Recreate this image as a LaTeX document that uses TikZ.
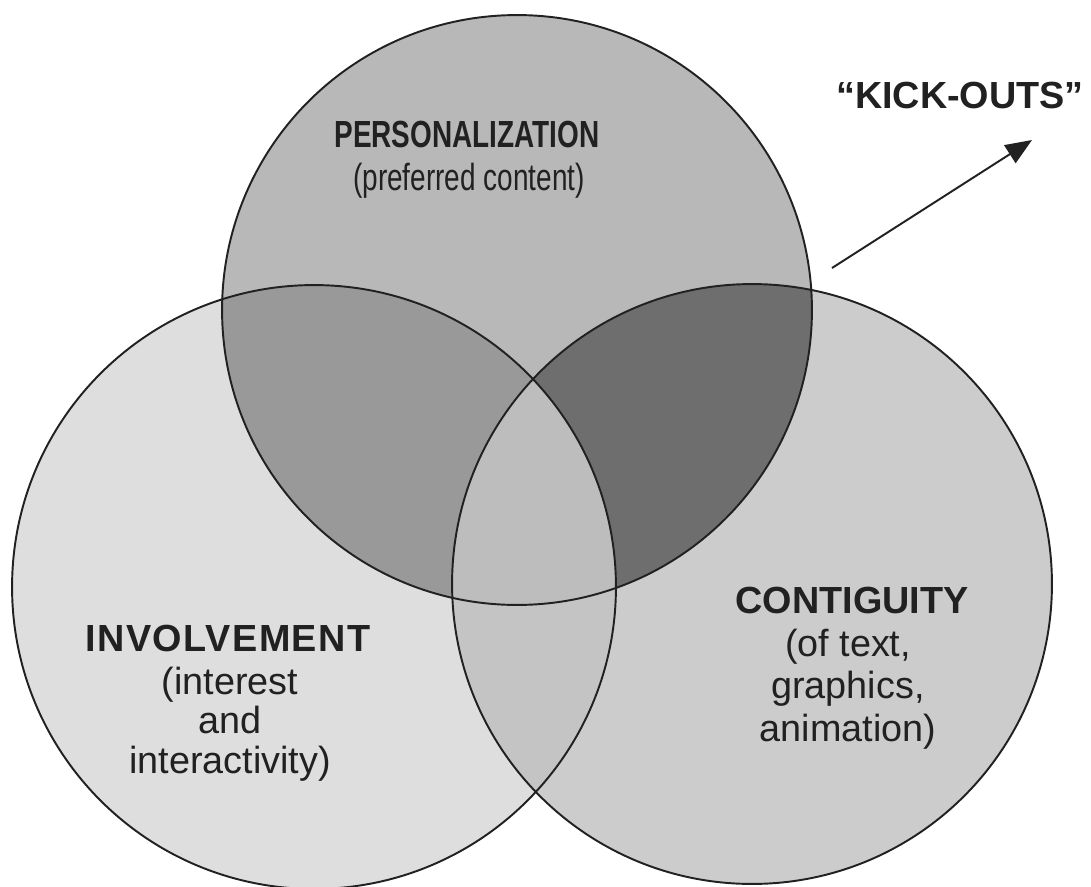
\documentclass[tikz,border=0pt]{standalone}
\usepackage{fontspec}
\setmainfont{Liberation Sans}
\newfontfamily\condfont[FakeStretch=0.74]{Liberation Sans}
\newfontfamily\widefont[LetterSpace=4]{Liberation Sans}
\usetikzlibrary{arrows.meta}
\definecolor{cI}{gray}{0.87}
\definecolor{cC}{gray}{0.80}
\definecolor{cP}{gray}{0.72}
\definecolor{cPI}{gray}{0.60}
\definecolor{cPC}{gray}{0.43}
\definecolor{cIC}{gray}{0.77}
\definecolor{cPIC}{gray}{0.74}
\definecolor{ink}{gray}{0.13}
\begin{document}
\begin{tikzpicture}[x=0.02cm,y=-0.02cm,
  outline/.style={draw=ink,line width=1.1pt},
  title/.style={text=ink,font=\fontsize{21.5}{24}\selectfont\bfseries,anchor=base,inner sep=0pt},
  sub/.style={text=ink,font=\fontsize{21.5}{22.3}\selectfont,anchor=base,inner sep=0pt,align=center},
  ctitle/.style={text=ink,font=\condfont\fontsize{21.5}{24}\selectfont\bfseries,anchor=base,inner sep=0pt},
  csub/.style={text=ink,font=\condfont\fontsize{21.5}{24}\selectfont,anchor=base,inner sep=0pt},
  kick/.style={draw=ink,line width=1.1pt,-{Triangle[length=15pt,width=12pt]}}]
\fill[white] (0,0) rectangle (1091,886);
\useasboundingbox (0,0) rectangle (1091,886);
\def\rP{5.9cm}
\def\rI{6.04cm}
\def\rC{6.0cm}
\coordinate (P) at (517,310);
\coordinate (I) at (314,587);
\coordinate (C) at (752,584);
% base fills
\fill[cI] (I) circle (\rI);
\fill[cC] (C) circle (\rC);
\fill[cP] (P) circle (\rP);
\begin{scope}
  \clip (P) circle (\rP);
  \fill[cPI] (I) circle (\rI);
  \fill[cPC] (C) circle (\rC);
\end{scope}
\begin{scope}
  \clip (I) circle (\rI);
  \fill[cIC] (C) circle (\rC);
\end{scope}
\begin{scope}
  \clip (I) circle (\rI);
  \clip (C) circle (\rC);
  \fill[cPIC] (P) circle (\rP);
\end{scope}
% outlines
\draw[outline] (P) circle (\rP);
\draw[outline] (I) circle (\rI);
\draw[outline] (C) circle (\rC);
% labels
\node[ctitle] (pt) at (467,147) {PERSONALIZATION};
\node[csub] (ps) at (469,190) {(preferred content)};
\node[title,font=\widefont\fontsize{21.5}{24}\selectfont\bfseries] (it) at (228,651) {INVOLVEMENT};
\node[sub,anchor=north] (is) at (230,667) {(interest\\and\\interactivity)};
\node[title] (ct) at (852,613) {CONTIGUITY};
\node[sub,anchor=north,font=\fontsize{21.5}{24}\selectfont] (cs) at (848,629) {(of text,\\graphics,\\animation)};
\node[title] (ko) at (960,108) {“KICK-OUTS”};
% arrow
\coordinate (a0) at (832,268);
\coordinate (a1) at (1032,140);
\draw[kick] (a0) -- (a1);
\end{tikzpicture}
\end{document}
